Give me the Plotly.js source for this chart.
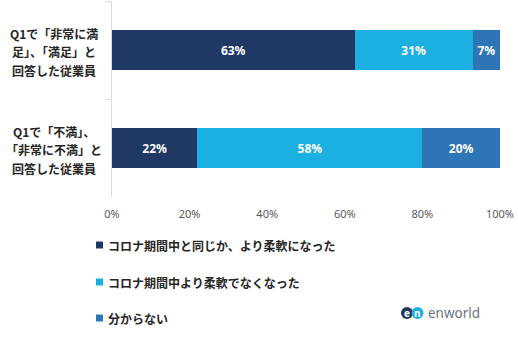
<!DOCTYPE html>
<html><head><meta charset="utf-8">
<script src="https://cdn.plot.ly/plotly-3.0.1.min.js"></script>
<style>html,body{margin:0;padding:0;background:#fff;}#chart{width:518px;height:349px;}</style>
</head><body><div id="chart"></div>
<script>
const categories = ["cat1", "cat2"];
const categoryLines = [
  ["Q1で「非常に満", "足」、「満足」と", "回答した従業員"],
  ["Q1で「不満」、", "「非常に不満」と", "回答した従業員"]
];
const seriesNames = ["コロナ期間中と同じか、より柔軟になった", "コロナ期間中より柔軟でなくなった", "分からない"];
const sameOrMore = [62.5, 22];
const lessFlexible = [30.5, 58];
const dontKnow = [7, 20];
const sameOrMoreLabels = ["63%", "22%"];
const lessFlexibleLabels = ["31%", "58%"];
const dontKnowLabels = ["7%", "20%"];
const xTickVals = [0, 20, 40, 60, 80, 100];
const xTickText = ["0%", "20%", "40%", "60%", "80%", "100%"];

const colors = ["#203864", "#1cafe2", "#2e75b6"];
const W = 518, H = 349, L = 112, R = 18, T = 1, B = 152;
const pw = W - L - R, ph = H - T - B;
const px = x => (x - L) / pw;
const py = y => (H - B - y) / ph;

const vals = [sameOrMore, lessFlexible, dontKnow];
const labs = [sameOrMoreLabels, lessFlexibleLabels, dontKnowLabels];
const traces = vals.map((v, i) => ({
  type: "bar", orientation: "h", y: categories, x: v, name: seriesNames[i],
  marker: {color: colors[i]}, width: 0.41,
  text: labs[i], texttemplate: "%{text}", textposition: "inside", insidetextanchor: "middle",
  textfont: {family: "Noto Sans, sans-serif", size: 12, color: "#ffffff", weight: "bold"},
  textangle: 0, constraintext: "none", hoverinfo: "skip"
}));

const annotations = [];
const shapes = [];
categoryLines.forEach((lines, ci) => {
  lines.forEach((ln, li) => {
    annotations.push({
      xref: "paper", yref: "y", x: px(54), y: categories[ci], xanchor: "center", yanchor: "middle",
      yshift: 18.5 - li * 18.5 - 1.5, text: "<b>" + ln + "</b>", showarrow: false,
      font: {family: "Noto Sans CJK JP, sans-serif", size: 12, color: "#262626"}
    });
  });
});
const legendY = [245, 282, 318];
seriesNames.forEach((n, i) => {
  shapes.push({type: "rect", xref: "paper", yref: "paper", x0: px(96), x1: px(103), y0: py(legendY[i] + 3.5), y1: py(legendY[i] - 3.5),
    fillcolor: colors[i], line: {width: 0}});
  annotations.push({xref: "paper", yref: "paper", x: px(106), y: py(legendY[i]), xanchor: "left", yanchor: "middle",
    text: "<b>" + n + "</b>", showarrow: false,
    font: {family: "Noto Sans CJK JP, sans-serif", size: 12, color: "#262626"}});
});
// logo
shapes.push({type: "circle", xref: "paper", yref: "paper", x0: px(401), x1: px(413), y0: py(319), y1: py(307), fillcolor: "#203864", line: {width: 0}});
shapes.push({type: "circle", xref: "paper", yref: "paper", x0: px(411.5), x1: px(423.5), y0: py(319), y1: py(307), fillcolor: "#1cafe2", line: {width: 0}});
annotations.push({xref: "paper", yref: "paper", x: px(407), y: py(313), xanchor: "center", yanchor: "middle", text: "<b>e</b>", showarrow: false,
  font: {family: "Noto Sans, sans-serif", size: 10, color: "#ffffff"}});
annotations.push({xref: "paper", yref: "paper", x: px(417.5), y: py(313), xanchor: "center", yanchor: "middle", text: "<b>n</b>", showarrow: false,
  font: {family: "Noto Sans, sans-serif", size: 10, color: "#ffffff"}});
annotations.push({xref: "paper", yref: "paper", x: px(426), y: py(313), xanchor: "left", yanchor: "middle", text: "enworld", showarrow: false,
  font: {family: "Noto Sans, sans-serif", size: 13.5, color: "#6a7480"}});

const layout = {
  width: W, height: H, margin: {l: L, r: R, t: T, b: B},
  paper_bgcolor: "#fff", plot_bgcolor: "#fff",
  barmode: "stack", bargap: 0.59, showlegend: false,
  xaxis: {range: [0, 100], tickvals: xTickVals, ticktext: xTickText, showgrid: false, zeroline: false, showline: false,
    ticks: "", ticklabelstandoff: 9, tickfont: {family: "Noto Sans, sans-serif", size: 11, color: "#595959"}, fixedrange: true},
  yaxis: {autorange: "reversed", showticklabels: false, showgrid: false, zeroline: false, showline: true, linecolor: "#d9d9d9", linewidth: 1,
    ticks: "outside", tickson: "boundaries", ticklen: 5, tickcolor: "#d9d9d9", fixedrange: true},
  annotations, shapes
};
Plotly.newPlot("chart", traces, layout, {displayModeBar: false, staticPlot: true});
</script></body></html>
